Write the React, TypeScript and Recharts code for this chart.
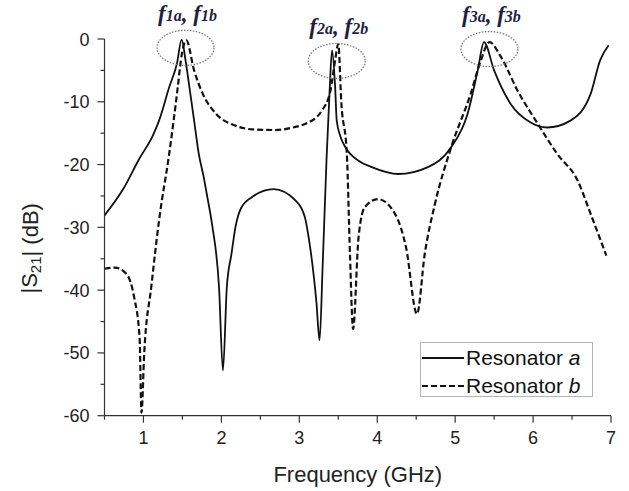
import { LineChart, Line, XAxis, YAxis, Legend, ReferenceDot } from "recharts";

// Resonator a (solid)
const freqA = [
  0.5, 0.74, 0.95, 1.12, 1.2, 1.33, 1.43, 1.49, 1.54, 1.59, 1.65, 1.71, 1.77, 1.82, 1.88, 1.97, 2.02,
  2.07, 2.13, 2.18, 2.25, 2.39, 2.67, 2.95, 3.07, 3.12, 3.22, 3.26, 3.3, 3.35, 3.39, 3.42, 3.46, 3.48,
  3.53, 3.59, 3.76, 3.93, 4.27, 4.65, 4.95, 5.16, 5.29, 5.37, 5.5, 5.71, 5.97, 6.18, 6.48, 6.74, 6.86,
  6.97,
];
const s21A = [
  -28.1, -23.9, -19.0, -15.4, -13.0, -7.7, -3.9, -0.1, -3.4, -7.7, -13.0, -18.3, -21.8, -25.2, -29.5,
  -39.6, -52.8, -39.5, -34.2, -30.0, -27.0, -25.2, -23.9, -25.7, -28.3, -31.6, -42.0, -48.0, -36.0,
  -19.0, -8.0, -1.8, -7.7, -13.0, -15.6, -17.2, -19.4, -20.4, -21.5, -20.4, -17.2, -11.9, -5.0, -0.5,
  -5.0, -10.3, -13.3, -14.1, -13.0, -8.7, -3.4, -1.0,
];

// Resonator b (dashed)
const freqB = [
  0.5, 0.63, 0.78, 0.88, 0.95, 0.975, 1.01, 1.1, 1.2, 1.33, 1.44, 1.48, 1.55, 1.65, 1.76, 1.93, 2.18,
  2.4, 2.69, 2.95, 3.08, 3.29, 3.4, 3.46, 3.5, 3.54, 3.61, 3.65, 3.69, 3.76, 3.84, 4.01, 4.23, 4.37,
  4.51, 4.61, 4.74, 4.95, 5.2, 5.33, 5.44, 5.59, 5.8, 6.06, 6.31, 6.57, 6.74, 6.94,
];
const s21B = [
  -36.6, -36.4, -37.4, -41.1, -47.5, -59.5, -50.0, -39.5, -28.9, -18.3, -7.7, -3.4, -0.2, -5.0, -8.7,
  -11.9, -13.8, -14.4, -14.5, -14.0, -13.5, -11.4, -8.2, -3.4, -0.8, -10.3, -18.3, -34.2, -46.2, -31.6,
  -26.8, -25.5, -27.9, -33.2, -43.8, -34.2, -26.3, -17.2, -8.7, -3.4, -0.5, -2.9, -8.2, -13.5, -18.3,
  -22.5, -27.9, -34.5,
];

const xTicks = [0.5, 1, 1.5, 2, 2.5, 3, 3.5, 4, 4.5, 5, 5.5, 6, 6.5, 7];
const yTicks = [-60, -55, -50, -45, -40, -35, -30, -25, -20, -15, -10, -5, 0];

// circled resonance pairs
const peakFreqs = [1.54, 3.48, 5.44];
const peakLevels = [-1.4, -3.5, -1.6];
const peakNums = ["1", "2", "3"];

const seriesA = freqA.map((f, i) => ({ f, v: s21A[i] }));
const seriesB = freqB.map((f, i) => ({ f, v: s21B[i] }));

const FONT = '"Liberation Sans", Arial, sans-serif';
const SERIF = '"Liberation Serif", "Times New Roman", serif';
const AXIS = "#333";

const XTick = (props: any) => {
  const { x, y, payload } = props;
  const v = payload.value;
  const major = Number.isInteger(v);
  return (
    <g>
      <line x1={x} x2={x} y1={y} y2={y + (major ? 7 : 4)} stroke={AXIS} strokeWidth={1.2} />
      {major && (
        <text x={x} y={y + 28} textAnchor="middle" fontSize={18} fontFamily={FONT} fill="#222">
          {v}
        </text>
      )}
    </g>
  );
};

const YTick = (props: any) => {
  const { x, y, payload } = props;
  const v = payload.value;
  const major = v % 10 === 0;
  return (
    <g>
      <line x1={x - (major ? 7 : 4)} x2={x} y1={y} y2={y} stroke={AXIS} strokeWidth={1.2} />
      {major && (
        <text x={x - 15} y={y + 6.5} textAnchor="end" fontSize={18} fontFamily={FONT} fill="#222">
          {v}
        </text>
      )}
    </g>
  );
};

const YTitle = (props: any) => {
  const vb = props.viewBox;
  const cx = vb.x + 30;
  const cy = vb.y + vb.height / 2 + 21;
  return (
    <text
      x={cx}
      y={cy}
      transform={`rotate(-90 ${cx} ${cy})`}
      textAnchor="middle"
      dominantBaseline="central"
      fontSize={22}
      fontFamily={FONT}
      fill="#222"
    >
      |S
      <tspan fontSize={15} dy={5}>21</tspan>
      <tspan dy={-5}>| (dB)</tspan>
    </text>
  );
};

const PeakMark = (num: string) => (props: any) => {
  const { cx, cy } = props;
  return (
    <g>
      <ellipse
        cx={cx}
        cy={cy}
        rx={28.5}
        ry={17.5}
        fill="none"
        stroke="#777"
        strokeWidth={1.3}
        strokeDasharray="1.5 1.5"
      />
      <text
        x={cx + 2}
        y={cy - 27}
        textAnchor="middle"
        fontFamily={SERIF}
        fontWeight="bold"
        fontStyle="italic"
        fill="#1f1f45"
      >
        <tspan fontSize={23}>f</tspan>
        <tspan fontSize={16}>{num}a</tspan>
        <tspan fontSize={23}>, f</tspan>
        <tspan fontSize={16}>{num}b</tspan>
      </text>
    </g>
  );
};

const LegendBox = (props: any) => {
  const items = props.payload || [];
  return (
    <div
      style={{
        position: "relative",
        width: 173,
        height: 55,
        border: "1px solid #b4b4b4",
        boxSizing: "border-box",
        background: "#fff",
        fontFamily: FONT,
        fontSize: 21,
        color: "#111",
      }}
    >
      {items.map((it: any, i: number) => {
        const name: string = it.value;
        const cut = name.lastIndexOf(" ");
        return (
          <div
            key={name}
            style={{
              position: "absolute",
              left: 0,
              top: 3 + i * 28,
              height: 24,
              display: "flex",
              alignItems: "center",
              whiteSpace: "nowrap",
              lineHeight: "24px",
            }}
          >
            <svg width={45} height={24} style={{ display: "block" }}>
              <line
                x1={1}
                x2={43}
                y1={12}
                y2={12}
                stroke="#111"
                strokeWidth={2}
                strokeDasharray={it.payload?.strokeDasharray}
              />
            </svg>
            <span>
              {name.slice(0, cut + 1)}
              <i>{name.slice(cut + 1)}</i>
            </span>
          </div>
        );
      })}
    </div>
  );
};

export default function App() {
  return (
    <div style={{ position: "absolute", left: 0, top: 0, background: "#fff" }}>
      <LineChart width={629} height={491} margin={{ top: 39, right: 18, bottom: 0, left: 0 }}>
        <XAxis
          type="number"
          dataKey="f"
          domain={[0.5, 7]}
          ticks={xTicks}
          interval={0}
          allowDataOverflow
          height={75.3}
          tickSize={0}
          tickMargin={0}
          tickLine={false}
          tick={<XTick />}
          axisLine={{ stroke: AXIS, strokeWidth: 1.2 }}
          label={{
            value: "Frequency (GHz)",
            position: "insideBottom",
            offset: 9,
            fontSize: 22,
            fontFamily: FONT,
            fill: "#222",
          }}
        />
        <YAxis
          type="number"
          domain={[-60, 0]}
          ticks={yTicks}
          interval={0}
          allowDataOverflow
          width={104.5}
          tickSize={0}
          tickMargin={0}
          tickLine={false}
          tick={<YTick />}
          axisLine={{ stroke: AXIS, strokeWidth: 1.2 }}
          label={<YTitle />}
        />
        <Line
          data={seriesA}
          dataKey="v"
          name="Resonator a"
          type="monotone"
          stroke="#111"
          strokeWidth={1.8}
          dot={false}
          isAnimationActive={false}
        />
        <Line
          data={seriesB}
          dataKey="v"
          name="Resonator b"
          type="monotone"
          stroke="#111"
          strokeWidth={2.2}
          strokeDasharray="6 3"
          dot={false}
          isAnimationActive={false}
        />
        {peakFreqs.map((f, i) => (
          <ReferenceDot
            key={f}
            x={f}
            y={peakLevels[i]}
            r={0}
            ifOverflow="visible"
            shape={PeakMark(peakNums[i])}
          />
        ))}
        <Legend
          layout="horizontal"
          verticalAlign="middle"
          align="center"
          content={<LegendBox />}
          wrapperStyle={{ left: 420, top: 342, width: 173, height: 55 }}
        />
      </LineChart>
    </div>
  );
}
